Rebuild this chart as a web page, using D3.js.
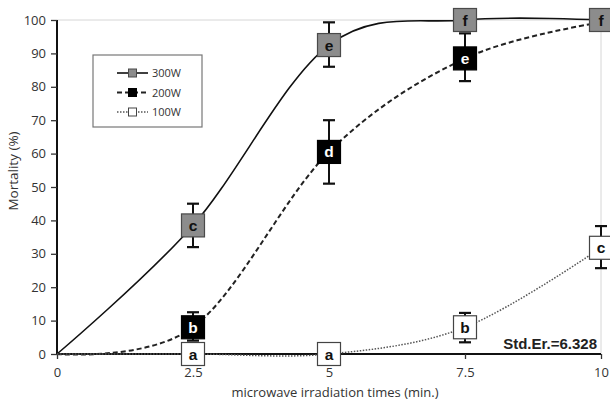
<!DOCTYPE html>
<html>
<head>
<meta charset="utf-8">
<script src="https://cdn.jsdelivr.net/npm/d3@7"></script>
<style>
  body { margin: 0; background: #fff; }
  svg { display: block; font-family: "Open Sans", sans-serif; }
</style>
</head>
<body>
<svg id="chart" width="610" height="401"></svg>
<script>
// chart values
var times = [0, 2.5, 5, 7.5, 10];
var xTicks = [0, 2.5, 5, 7.5, 10];
var yTicks = [0, 10, 20, 30, 40, 50, 60, 70, 80, 90, 100];

var w300 = [0, 38.5, 92.5, 100, 100];
var w300Lo = [null, 32, 86, null, null];
var w300Hi = [null, 45, 99.3, null, null];
var w300Letters = [null, 'c', 'e', 'f', 'f'];

var w200 = [0, 8, 60.5, 88.5, 99.3];
var w200Lo = [null, 4, 51, 81.7, null];
var w200Hi = [null, 12.5, 70, 96, null];
var w200Letters = [null, 'b', 'd', 'e', null];

var w100 = [0, 0, 0, 8, 31.8];
var w100Lo = [null, null, null, 3.5, 25.7];
var w100Hi = [null, null, null, 12.3, 38.3];
var w100Letters = [null, 'a', 'a', 'b', 'c'];

var seriesNames = ['300W', '200W', '100W'];
var stdErrText = 'Std.Er.=6.328';

var svg = d3.select('#chart');
var x = d3.scaleLinear().domain([0, 10]).range([57, 601]);
var y = d3.scaleLinear().domain([0, 100]).range([354, 20]);

var styles = {
  '300W': { fill: '#8c8c8c', stroke: '#4a4a4a', text: '#111', dash: null, lineColor: '#111', lineWidth: 1.6 },
  '200W': { fill: '#000', stroke: '#000', text: '#fff', dash: '5,3', lineColor: '#222', lineWidth: 2 },
  '100W': { fill: '#fff', stroke: '#444', text: '#111', dash: '1.5,1.5', lineColor: '#555', lineWidth: 1.5 }
};

var series = [
  { name: '300W', vals: w300, lo: w300Lo, hi: w300Hi, letters: w300Letters },
  { name: '200W', vals: w200, lo: w200Lo, hi: w200Hi, letters: w200Letters },
  { name: '100W', vals: w100, lo: w100Lo, hi: w100Hi, letters: w100Letters }
];

// plot frame (light top/right)
svg.append('line').attr('x1', x(0)).attr('x2', x(10)).attr('y1', y(100)).attr('y2', y(100))
  .attr('stroke', '#d6d6d6').attr('stroke-width', 1);
svg.append('line').attr('x1', x(10)).attr('x2', x(10)).attr('y1', y(100)).attr('y2', y(0))
  .attr('stroke', '#d6d6d6').attr('stroke-width', 1);

// axes
var yAxis = svg.append('g')
  .attr('transform', 'translate(' + x(0) + ',0)')
  .call(d3.axisLeft(y).tickValues(yTicks).tickSize(6).tickPadding(5));
var xAxis = svg.append('g')
  .attr('transform', 'translate(0,' + y(0) + ')')
  .call(d3.axisBottom(x).tickValues(xTicks).tickSize(5).tickPadding(9)
    .tickFormat(function(d) { return String(d); }));

[yAxis, xAxis].forEach(function(ax) {
  ax.select('.domain').attr('stroke', '#111').attr('stroke-width', 2);
  ax.selectAll('.tick line').attr('stroke', '#333').attr('stroke-width', 1.3);
  ax.selectAll('.tick text').attr('fill', '#333').attr('font-size', 13)
    .attr('font-family', '"Open Sans", sans-serif');
});
yAxis.select('.domain').attr('d', 'M0,' + y(100) + 'V' + y(0));
xAxis.select('.domain').attr('d', 'M' + x(0) + ',0H' + x(10));

// axis titles
svg.append('text')
  .attr('x', 335).attr('y', 397)
  .attr('text-anchor', 'middle').attr('font-size', 13).attr('fill', '#333')
  .text('microwave irradiation times (min.)');
svg.append('text')
  .attr('transform', 'translate(18,171) rotate(-90)')
  .attr('text-anchor', 'middle').attr('font-size', 13.5).attr('fill', '#333')
  .text('Mortality (%)');

// lines
var line = d3.line()
  .x(function(d) { return x(d[0]); })
  .y(function(d) { return y(d[1]); })
  .curve(d3.curveCardinal.tension(0));

series.forEach(function(s) {
  var st = styles[s.name];
  svg.append('path')
    .datum(times.map(function(t, i) { return [t, s.vals[i]]; }))
    .attr('d', line)
    .attr('fill', 'none')
    .attr('stroke', st.lineColor)
    .attr('stroke-width', st.lineWidth)
    .attr('stroke-dasharray', st.dash);
});

// error bars and lettered boxes
var box = 23;
series.forEach(function(s) {
  var g = svg.append('g');
  times.forEach(function(t, i) {
    if (s.lo[i] !== null) {
      var cx = x(t);
      g.append('line').attr('x1', cx).attr('x2', cx)
        .attr('y1', y(s.lo[i])).attr('y2', y(s.hi[i]))
        .attr('stroke', '#111').attr('stroke-width', 2);
      [s.lo[i], s.hi[i]].forEach(function(v) {
        g.append('line').attr('x1', cx - 6).attr('x2', cx + 6)
          .attr('y1', y(v)).attr('y2', y(v))
          .attr('stroke', '#111').attr('stroke-width', 2.2);
      });
    }
  });
});

series.forEach(function(s) {
  var st = styles[s.name];
  times.forEach(function(t, i) {
    if (!s.letters[i]) return;
    var cx = x(t), cy = y(s.vals[i]);
    svg.append('rect')
      .attr('x', cx - box / 2).attr('y', cy - box / 2)
      .attr('width', box).attr('height', box)
      .attr('fill', st.fill).attr('stroke', st.stroke).attr('stroke-width', 1.2);
    svg.append('text')
      .attr('x', cx).attr('y', cy + 5.5)
      .attr('text-anchor', 'middle')
      .attr('font-family', '"Liberation Sans", Arial, sans-serif')
      .attr('font-weight', 'bold').attr('font-size', 15.5)
      .attr('fill', st.text)
      .text(s.letters[i]);
  });
});

// legend
var legend = svg.append('g');
legend.append('rect')
  .attr('x', 93).attr('y', 55).attr('width', 109).attr('height', 72)
  .attr('fill', '#fff').attr('stroke', '#777').attr('stroke-width', 1.2);
seriesNames.forEach(function(name, i) {
  var st = styles[name];
  var ly = 73 + i * 19.5;
  legend.append('line')
    .attr('x1', 117).attr('x2', 148).attr('y1', ly).attr('y2', ly)
    .attr('stroke', st.lineColor).attr('stroke-width', st.lineWidth)
    .attr('stroke-dasharray', st.dash);
  legend.append('rect')
    .attr('x', 132.5 - 4).attr('y', ly - 4).attr('width', 8).attr('height', 8)
    .attr('fill', st.fill).attr('stroke', st.stroke).attr('stroke-width', 1);
  legend.append('text')
    .attr('x', 152).attr('y', ly + 4)
    .attr('font-size', 11).attr('fill', '#333')
    .text(name);
});

// std error note
svg.append('text')
  .attr('x', 597).attr('y', 349)
  .attr('text-anchor', 'end')
  .attr('font-family', '"Liberation Sans", Arial, sans-serif')
  .attr('font-weight', 'bold').attr('font-size', 15)
  .attr('fill', '#222')
  .text(stdErrText);
</script>
</body>
</html>
